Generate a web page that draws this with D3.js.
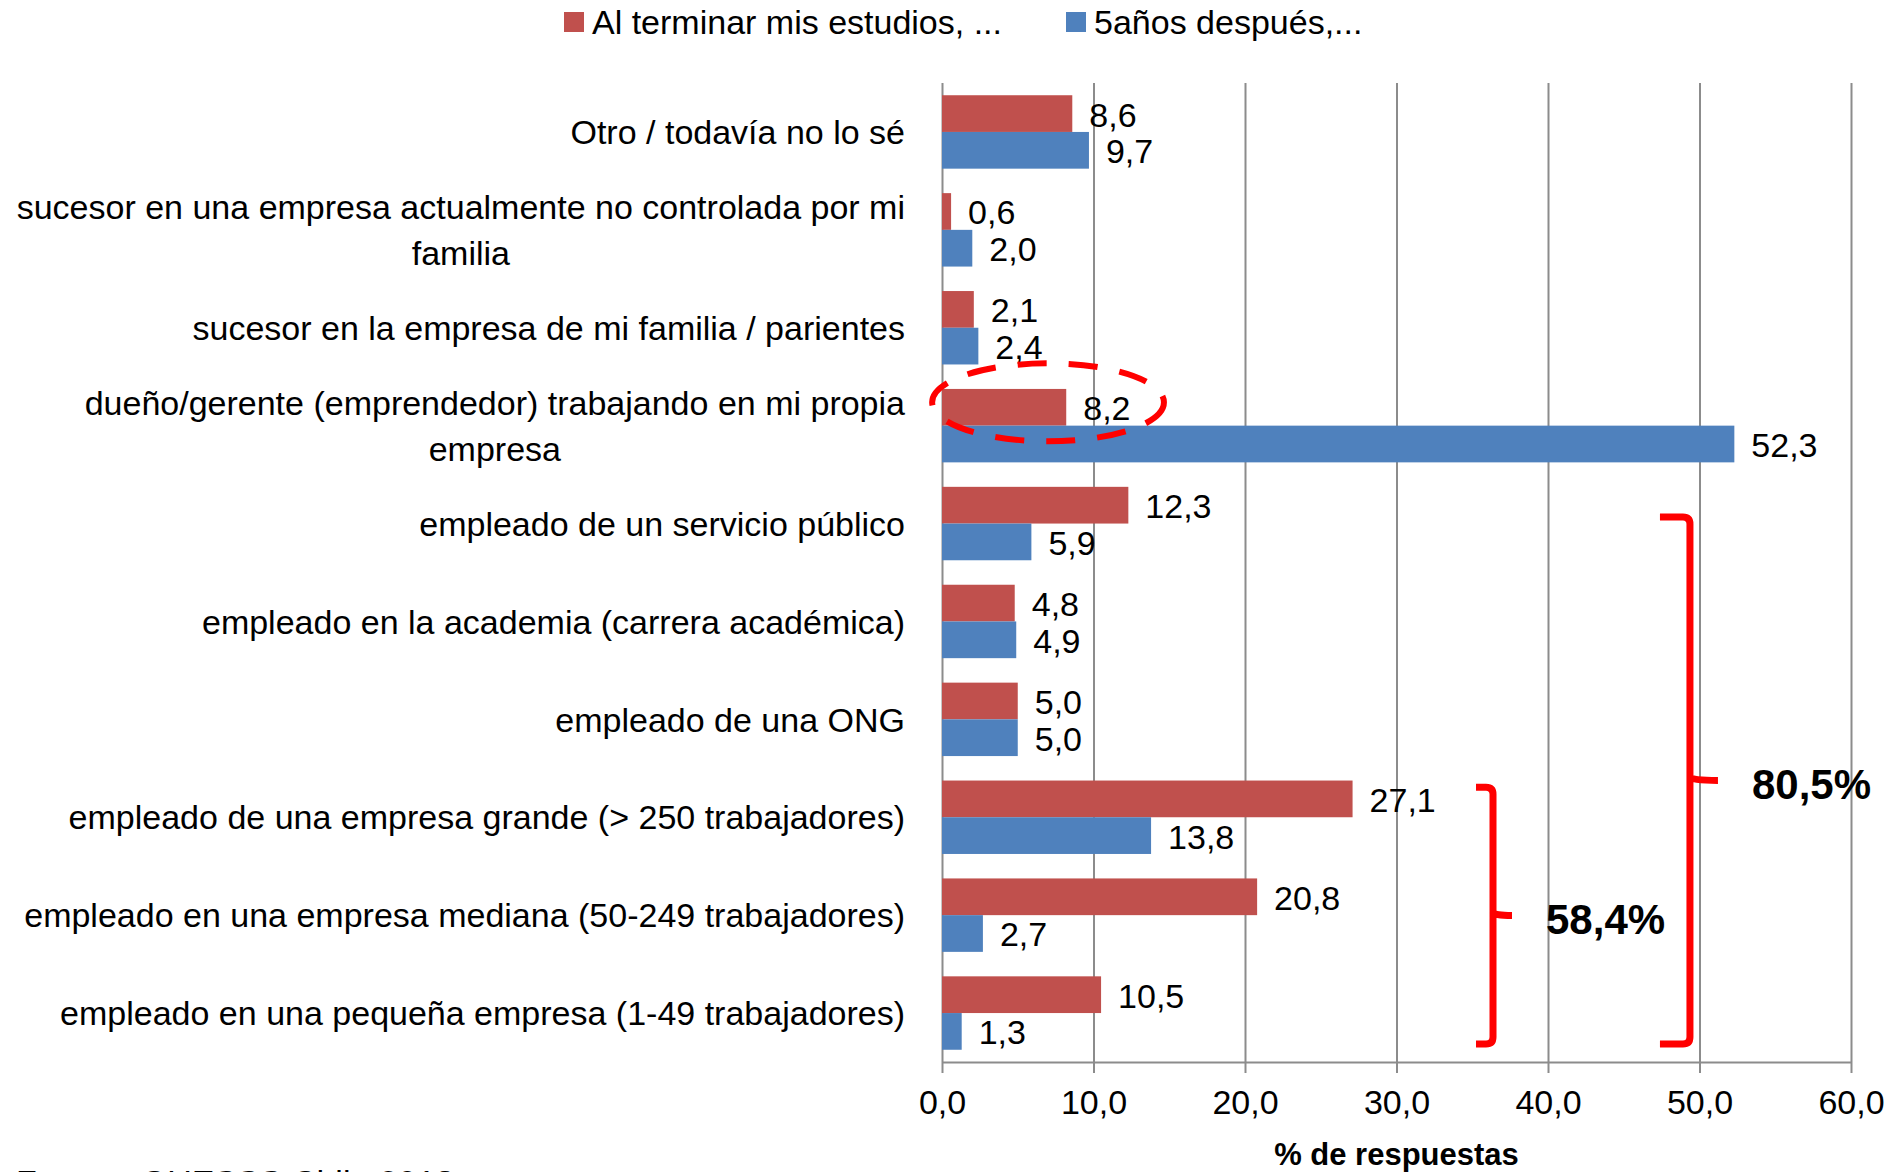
<!DOCTYPE html>
<html lang="es">
<head>
    <meta charset="UTF-8">
    <title>Al terminar mis estudios / 5 años después</title>
    <style>
        html, body {
            margin: 0;
            padding: 0;
            background: #fff;
            overflow: hidden;
        }
        svg {
            display: block;
            font-family: "Liberation Sans", Arial, sans-serif;
        }
        .grid line {
            stroke: #8c8c8c;
            stroke-width: 2;
        }
        .grid path {
            display: none;
        }
        .xaxis path, .xaxis line {
            stroke: #8c8c8c;
            stroke-width: 2;
        }
        .xaxis text {
            font-size: 34px;
            fill: #000;
        }
    </style>
</head>
<body>
    <script src="https://d3js.org/d3.v7.min.js"></script>
    <script>
        // categories, top to bottom
        const categories = [
            "Otro / todavía no lo sé",
            "sucesor en una empresa actualmente no controlada por mi\nfamilia",
            "sucesor en la empresa de mi familia / parientes",
            "dueño/gerente (emprendedor) trabajando en mi propia\nempresa",
            "empleado de un servicio público",
            "empleado en la academia (carrera académica)",
            "empleado de una ONG",
            "empleado de una empresa grande (> 250 trabajadores)",
            "empleado en una empresa mediana (50-249 trabajadores)",
            "empleado en una pequeña empresa (1-49 trabajadores)"
        ];
        const alTerminar = [8.6, 0.6, 2.1, 8.2, 12.3, 4.8, 5.0, 27.1, 20.8, 10.5];
        const cincoAnios = [9.7, 2.0, 2.4, 52.3, 5.9, 4.9, 5.0, 13.8, 2.7, 1.3];
        const seriesNames = ["Al terminar mis estudios, ...", "5años después,..."];
        const seriesColors = ["#C0504D", "#4F81BD"];
        const xTicks = [0, 10, 20, 30, 40, 50, 60];
        const axisTitle = "% de respuestas";
        const source = "Fuente: GUESSS Chile 2013";

        // grouped annotations (category index ranges)
        const groupFrom = [4, 7];
        const groupTo = [9, 9];
        const groupLabels = ["80,5%", "58,4%"];

        const width = 1897, height = 1172;
        const plotTop = 83, plotBottom = 1062;
        const fmt = d => d3.format(".1f")(d).replace(".", ",");

        const svg = d3.select("body").append("svg")
            .attr("width", width)
            .attr("height", height);

        const x = d3.scaleLinear().domain([0, 60]).range([942, 1851]);
        const y = d3.scaleBand().domain(d3.range(categories.length))
            .range([plotTop, plotBottom])
            .paddingInner(0.25)
            .paddingOuter(0.125);
        const sub = d3.scaleBand().domain([0, 1]).range([0, y.bandwidth()]);

        // gridlines
        svg.append("g")
            .attr("class", "grid")
            .attr("transform", `translate(0,${plotBottom})`)
            .call(d3.axisBottom(x).tickValues(xTicks).tickSize(-(plotBottom - plotTop)).tickFormat(""));

        // x axis
        svg.append("g")
            .attr("class", "xaxis")
            .attr("transform", `translate(0,${plotBottom})`)
            .call(d3.axisBottom(x).tickValues(xTicks).tickSize(11).tickSizeOuter(0).tickPadding(17).tickFormat(fmt));

        svg.append("text")
            .attr("x", x(30))
            .attr("y", 1165)
            .attr("text-anchor", "middle")
            .attr("font-size", 31)
            .attr("font-weight", "bold")
            .text(axisTitle);

        // bars
        const rows = categories.map((c, i) => ({i, vals: [alTerminar[i], cincoAnios[i]]}));
        const groups = svg.selectAll("g.row")
            .data(rows)
            .enter()
            .append("g")
            .attr("class", "row")
            .attr("transform", d => `translate(0,${y(d.i)})`);

        groups.selectAll("rect")
            .data(d => d.vals)
            .enter()
            .append("rect")
            .attr("x", x(0))
            .attr("y", (d, k) => sub(k))
            .attr("width", d => x(d) - x(0))
            .attr("height", sub.bandwidth())
            .attr("fill", (d, k) => seriesColors[k]);

        groups.selectAll("text.val")
            .data(d => d.vals)
            .enter()
            .append("text")
            .attr("class", "val")
            .attr("x", d => x(d) + 17)
            .attr("y", (d, k) => sub(k) + sub.bandwidth() / 2)
            .attr("dy", "0.38em")
            .attr("font-size", 34)
            .text(fmt);

        // category labels (multi-line ones centred in their block)
        const labelRight = 905;
        categories.forEach((c, i) => {
            const lines = c.split("\n");
            const cy = y(i) + y.bandwidth() / 2;
            const t = svg.append("text")
                .attr("font-size", 34)
                .attr("text-anchor", lines.length > 1 ? "middle" : "end");
            lines.forEach((ln, j) => {
                t.append("tspan")
                    .attr("y", cy + (j - (lines.length - 1) / 2) * 46)
                    .attr("dy", "0.36em")
                    .text(ln);
            });
            if (lines.length > 1) {
                const w = d3.max(t.selectAll("tspan").nodes(), n => n.getComputedTextLength());
                t.selectAll("tspan").attr("x", labelRight - w / 2);
            } else {
                t.selectAll("tspan").attr("x", labelRight);
            }
        });

        // legend
        const legendX = [564, 1066];
        seriesNames.forEach((name, k) => {
            svg.append("rect")
                .attr("x", legendX[k])
                .attr("y", 12)
                .attr("width", 20)
                .attr("height", 20)
                .attr("fill", seriesColors[k]);
            svg.append("text")
                .attr("x", legendX[k] + 28)
                .attr("y", 22)
                .attr("dy", "0.36em")
                .attr("font-size", 34)
                .text(name);
        });

        // dashed ellipse around the "dueño/gerente" red bar
        svg.append("ellipse")
            .attr("cx", x(7.0))
            .attr("cy", y(3) + sub(0) + sub.bandwidth() / 2 - 5)
            .attr("rx", x(7.65) - x(0))
            .attr("ry", 39)
            .attr("fill", "none")
            .attr("stroke", "#ff0000")
            .attr("stroke-width", 6)
            .attr("stroke-dasharray", "29,22");

        // brackets
        const bracketX = [49.37, 36.37];
        const bracketTop = [0.41, 0.09];
        const endLen = [30, 17];
        const tipLen = [28, 19];
        groupFrom.forEach((f, k) => {
            const xv = x(bracketX[k]);
            const xl = xv - endLen[k];
            const xr = xv + tipLen[k];
            const yt = y(f) + bracketTop[k] * y.bandwidth();
            const yb = y(groupTo[k]) + 0.92 * y.bandwidth();
            const ym = (yt + yb) / 2;
            const r = 7;
            const p = d3.path();
            p.moveTo(xl, yt);
            p.lineTo(xv - r, yt);
            p.quadraticCurveTo(xv, yt, xv, yt + r);
            p.lineTo(xv, yb - r);
            p.quadraticCurveTo(xv, yb, xv - r, yb);
            p.lineTo(xl, yb);
            p.moveTo(xv, ym - 3);
            p.quadraticCurveTo(xv + 2, ym, xr, ym);
            svg.append("path")
                .attr("d", p.toString())
                .attr("fill", "none")
                .attr("stroke", "#ff0000")
                .attr("stroke-width", 7)
                .attr("stroke-linejoin", "round");
            svg.append("text")
                .attr("x", xr + 34)
                .attr("y", ym + 3)
                .attr("dy", "0.36em")
                .attr("font-size", 42)
                .attr("font-weight", "bold")
                .text(groupLabels[k]);
        });

        // source (cut off at the bottom of the picture, as in the original)
        svg.append("text")
            .attr("x", 16)
            .attr("y", 1194)
            .attr("font-size", 34)
            .text(source);
    </script>
</body>
</html>
